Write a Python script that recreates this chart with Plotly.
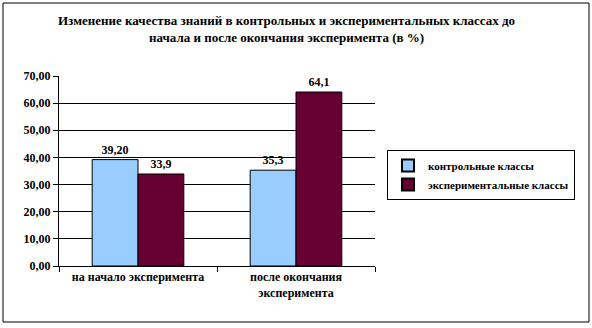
import plotly.graph_objects as go

categories = ["на начало эксперимента", "после окончания<br>эксперимента"]
series_names = ["контрольные классы", "экспериментальные классы"]
control_vals = [39.2, 35.3]
exper_vals = [33.9, 64.1]
control_labels = ["39,20", "35,3"]
exper_labels = ["33,9", "64,1"]
y_ticks = [0, 10, 20, 30, 40, 50, 60, 70]
title_text = "Изменение качества знаний в контрольных и экспериментальных классах до<br>начала и после окончания эксперимента (в %)"

W, H = 592, 328
L, R, T, B = 59, 375, 76, 266
pw, ph = R - L, B - T

FAM = "Times New Roman, Liberation Serif, DejaVu Serif, serif"
font = dict(family=FAM, size=12, color="black")
bfont = dict(family=FAM, size=12, color="black")
lfont = dict(family=FAM, size=11, color="black")
tfont = dict(family=FAM, size=13, color="black")

def b(s):
    return "<b>" + s + "</b>"

fig = go.Figure()
fig.add_bar(x=categories, y=control_vals, name=b(series_names[0]), text=[b(t) for t in control_labels],
            textposition="outside", textfont=bfont, cliponaxis=False,
            marker=dict(color="#99CCFF", line=dict(color="black", width=1)))
fig.add_bar(x=categories, y=exper_vals, name=b(series_names[1]), text=[b(t) for t in exper_labels],
            textposition="outside", textfont=bfont, cliponaxis=False,
            marker=dict(color="#660033", line=dict(color="black", width=1)))

def px_x(p):
    return (p - L) / pw

def px_y(p):
    return (B - p) / ph

fig.update_layout(
    width=W, height=H,
    margin=dict(l=L, r=W - R, t=T, b=H - B, pad=0, autoexpand=False),
    paper_bgcolor="white", plot_bgcolor="white",
    barmode="group", bargap=0.42, bargroupgap=0,
    separators=", ",
    font=font,
    showlegend=True,
    legend=dict(x=px_x(387), y=px_y(150), xanchor="left", yanchor="top",
                bordercolor="black", borderwidth=1, bgcolor="white",
                font=lfont, tracegroupgap=2, itemwidth=30, itemsizing="constant"),
    xaxis=dict(showline=True, linecolor="black", linewidth=1, ticks="outside",
               tickson="boundaries", ticklen=5, tickcolor="black",
               tickvals=categories, ticktext=[b(c) for c in categories],
               tickfont=bfont, showgrid=False, automargin=False),
    yaxis=dict(range=[0, 70], tickvals=y_ticks, ticktext=[b(f"{v:.2f}".replace(".", ",")) for v in y_ticks],
               showline=True, automargin=False,
               linecolor="black", linewidth=1, ticks="outside", ticklen=5,
               tickcolor="black", showgrid=True, gridcolor="black", gridwidth=1,
               tickfont=bfont, zeroline=False),
    shapes=[dict(type="rect", xref="paper", yref="paper",
                 x0=px_x(3), x1=px_x(589), y0=px_y(322), y1=px_y(3),
                 line=dict(color="black", width=1), fillcolor="rgba(0,0,0,0)", layer="below")],
    annotations=[dict(text=b(title_text), xref="paper", yref="paper",
                      x=px_x(286), y=px_y(11), xanchor="center", yanchor="top",
                      showarrow=False, font=tfont, align="center")],
)

fig.write_html("out.html")
